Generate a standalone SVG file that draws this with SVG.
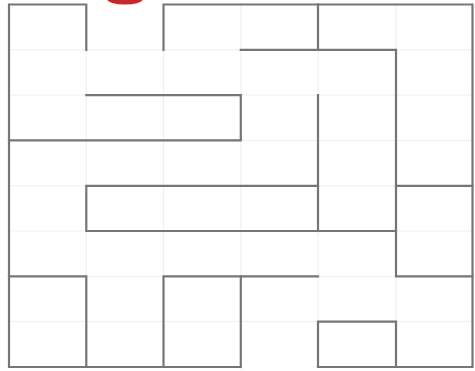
<svg xmlns="http://www.w3.org/2000/svg" width="475" height="371" viewBox="0 0 475 371">
<style>
.grid{stroke:#efefef;stroke-width:1;fill:none}
.wall{stroke:#767676;stroke-width:2.2;fill:none;stroke-linecap:square}
</style>
<rect width="475" height="371" fill="#ffffff"/>
<g id="grid" class="grid">
<path d="M86.3 4.5V367M163.5 4.5V367M240.8 4.5V367M318 4.5V367M396 4.5V367"/>
<path d="M9 49.8H472.5M9 95.1H472.5M9 140.4H472.5M9 185.8H472.5M9 231H472.5M9 276.4H472.5M9 321.6H472.5"/>
</g>
<g id="start"><ellipse cx="125" cy="-1" rx="18" ry="5.5" fill="#c02a2a"/></g>
<g id="walls" class="wall">
<path d="M86.3 49.8V4.5H9V367H240.8"/>
<path d="M163.5 49.8V4.5H472.5V367H318"/>
<path d="M318 4.5V49.8"/>
<path d="M240.8 49.8H396V276.4H472.5"/>
<path d="M86.3 95.1H240.8V140.4H9"/>
<path d="M318 95.1V231"/>
<path d="M318 185.8H86.3V231H396"/>
<path d="M396 185.8H472.5"/>
<path d="M9 276.4H86.3V367"/>
<path d="M163.5 367V276.4H318"/>
<path d="M240.8 276.4V367"/>
<path d="M318 367V321.6H396V367"/>
</g>
</svg>
